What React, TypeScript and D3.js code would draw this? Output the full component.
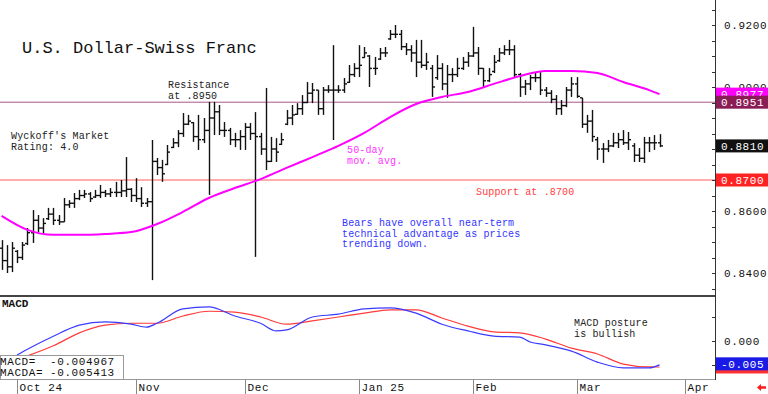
import React, { useRef, useEffect } from 'react'
import * as d3 from 'd3'

// daily OHLC bars, Sep 26 2024 .. Mar 25 2025 (trading-day index 0..127)
const highs = [
  0.8506, 0.849, 0.85, 0.8474, 0.85, 0.8545, 0.8603, 0.8587, 0.8577, 0.861,
  0.861, 0.8587, 0.8642, 0.8635, 0.8658, 0.8668, 0.8668, 0.8661, 0.8668, 0.8684,
  0.8668, 0.8674, 0.8694, 0.87, 0.8774, 0.8674, 0.8706, 0.8677, 0.8642, 0.8829,
  0.8771, 0.8765, 0.8813, 0.8835, 0.8861, 0.8916, 0.891, 0.8887, 0.891, 0.89,
  0.8952, 0.8952, 0.8942, 0.8887, 0.8868, 0.8852, 0.8861, 0.8884, 0.8884, 0.8919,
  0.8852, 0.8997, 0.8839, 0.8835, 0.8852, 0.8926, 0.8942, 0.8948, 0.8974, 0.9016,
  0.9013, 0.899, 0.9, 0.9006, 0.9135, 0.9006, 0.9029, 0.9071, 0.9077, 0.9135,
  0.9129, 0.9103, 0.9097, 0.9126, 0.9129, 0.9184, 0.92, 0.9184, 0.9142, 0.9135,
  0.9152, 0.9152, 0.911, 0.9071, 0.9103, 0.9077, 0.9071, 0.9061, 0.9094, 0.9097,
  0.9113, 0.9194, 0.9129, 0.9061, 0.9061, 0.9103, 0.9126, 0.9135, 0.9152, 0.9135,
  0.9045, 0.9023, 0.9039, 0.9048, 0.9048, 0.9, 0.899, 0.8974, 0.8958, 0.9,
  0.9032, 0.9032, 0.8965, 0.891, 0.8926, 0.8839, 0.8819, 0.8829, 0.8852, 0.8852,
  0.8861, 0.8855, 0.8819, 0.8803, 0.8839, 0.8839, 0.8845, 0.8848,
]
const lows = [
  0.841, 0.84, 0.8403, 0.8432, 0.8442, 0.849, 0.8497, 0.8532, 0.8529, 0.8571,
  0.8555, 0.8555, 0.8565, 0.861, 0.861, 0.8635, 0.8642, 0.8629, 0.8642, 0.8642,
  0.8645, 0.8645, 0.8645, 0.8645, 0.8645, 0.8629, 0.8629, 0.8613, 0.8613, 0.8377,
  0.8716, 0.8694, 0.8748, 0.8803, 0.8806, 0.8839, 0.8877, 0.8823, 0.8797, 0.8819,
  0.8652, 0.8845, 0.8845, 0.8839, 0.8813, 0.8806, 0.8797, 0.8797, 0.8829, 0.8452,
  0.8781, 0.8732, 0.8758, 0.8758, 0.8813, 0.8877, 0.8877, 0.891, 0.891, 0.8948,
  0.8948, 0.891, 0.891, 0.8981, 0.8829, 0.8981, 0.8981, 0.9013, 0.9032, 0.9032,
  0.9094, 0.9, 0.9039, 0.9087, 0.9097, 0.9152, 0.9158, 0.9119, 0.9103, 0.9081,
  0.9032, 0.9061, 0.9055, 0.8968, 0.9023, 0.899, 0.8965, 0.9016, 0.9032, 0.9055,
  0.9065, 0.9097, 0.9039, 0.9, 0.9016, 0.9045, 0.9081, 0.9103, 0.9103, 0.9029,
  0.8968, 0.8974, 0.899, 0.9016, 0.8974, 0.8968, 0.8948, 0.891, 0.891, 0.8935,
  0.8968, 0.8965, 0.8868, 0.8852, 0.8823, 0.8765, 0.8755, 0.879, 0.8806, 0.8803,
  0.8813, 0.8797, 0.8758, 0.8758, 0.8755, 0.879, 0.8797, 0.8806,
]
const opens = [
  0.848, 0.844, 0.842, 0.847, 0.845, 0.8495, 0.853, 0.857, 0.8545, 0.8575,
  0.859, 0.857, 0.8565, 0.862, 0.8625, 0.864, 0.865, 0.8655, 0.8645, 0.865,
  0.866, 0.8655, 0.866, 0.866, 0.8665, 0.867, 0.865, 0.864, 0.8625, 0.863,
  0.876, 0.874, 0.875, 0.8805, 0.882, 0.885, 0.888, 0.8885, 0.884, 0.883,
  0.886, 0.89, 0.892, 0.886, 0.886, 0.883, 0.883, 0.884, 0.887, 0.885,
  0.884, 0.88, 0.876, 0.88, 0.8815, 0.888, 0.89, 0.8912, 0.893, 0.895,
  0.898, 0.899, 0.893, 0.899, 0.899, 0.899, 0.899, 0.9015, 0.904, 0.906,
  0.9095, 0.91, 0.906, 0.909, 0.911, 0.9155, 0.917, 0.917, 0.913, 0.912,
  0.911, 0.908, 0.907, 0.906, 0.903, 0.906, 0.901, 0.904, 0.904, 0.906,
  0.908, 0.91, 0.911, 0.906, 0.902, 0.905, 0.9085, 0.911, 0.912, 0.912,
  0.904, 0.9, 0.901, 0.903, 0.903, 0.899, 0.898, 0.896, 0.893, 0.894,
  0.899, 0.901, 0.8965, 0.888, 0.889, 0.883, 0.88, 0.88, 0.881, 0.882,
  0.883, 0.882, 0.881, 0.878, 0.877, 0.882, 0.882, 0.882,
]
const closes = [
  0.844, 0.842, 0.848, 0.845, 0.849, 0.853, 0.857, 0.8545, 0.856, 0.859,
  0.857, 0.8565, 0.862, 0.8625, 0.864, 0.865, 0.8655, 0.864, 0.865, 0.866,
  0.8655, 0.866, 0.866, 0.8665, 0.867, 0.865, 0.864, 0.8625, 0.863, 0.876,
  0.874, 0.872, 0.879, 0.882, 0.885, 0.888, 0.889, 0.884, 0.883, 0.886,
  0.89, 0.892, 0.886, 0.886, 0.883, 0.883, 0.884, 0.887, 0.885, 0.884,
  0.88, 0.876, 0.88, 0.879, 0.883, 0.89, 0.891, 0.893, 0.895, 0.898,
  0.899, 0.893, 0.899, 0.899, 0.899, 0.899, 0.901, 0.904, 0.906, 0.907,
  0.911, 0.906, 0.906, 0.911, 0.911, 0.917, 0.917, 0.913, 0.912, 0.911,
  0.908, 0.907, 0.908, 0.9, 0.906, 0.901, 0.904, 0.904, 0.906, 0.908,
  0.91, 0.911, 0.906, 0.902, 0.904, 0.908, 0.911, 0.912, 0.912, 0.904,
  0.9, 0.901, 0.903, 0.903, 0.899, 0.898, 0.896, 0.893, 0.894, 0.899,
  0.901, 0.897, 0.888, 0.889, 0.884, 0.88, 0.88, 0.881, 0.882, 0.883,
  0.882, 0.883, 0.878, 0.877, 0.882, 0.882, 0.882, 0.881,
]

// 50-day moving average, read at every 5th bar
const maIdx = [0, 5, 10, 15, 20, 25, 30, 35, 40, 45, 50, 55, 60, 65, 70, 75, 80, 85, 90, 95, 100, 105, 110, 115, 120, 125, 127]
const maVals = [
  0.8584, 0.8539, 0.8523, 0.8523, 0.8526, 0.8532, 0.8558, 0.8597, 0.8642, 0.8674,
  0.8703, 0.8739, 0.8774, 0.881, 0.8852, 0.8903, 0.8945, 0.8968, 0.8984, 0.901,
  0.9035, 0.9052, 0.9052, 0.9045, 0.9016, 0.899, 0.8977,
]

// MACD (blue) and MACDA signal (red)
const macdIdx = [3, 5, 10, 15, 20, 25, 28, 30, 35, 40, 45, 50, 53, 55, 60, 65, 70, 75, 80, 85, 90, 95, 100, 102, 105, 110, 115, 120, 125, 127]
const macdVals = [
  -0.0029, -0.0017, 0.001, 0.0033, 0.004, 0.0035, 0.0029, 0.0037, 0.0067, 0.0071,
  0.0052, 0.0037, 0.0021, 0.0023, 0.005, 0.0056, 0.0067, 0.0069, 0.0058, 0.0035,
  0.0021, 0.001, 0.0008, -0.0002, -0.0008, -0.0021, -0.0044, -0.0056, -0.0056, -0.004967,
]
const sigIdx = [5, 10, 15, 20, 25, 30, 35, 40, 45, 50, 55, 60, 65, 70, 75, 80, 85, 90, 95, 100, 105, 110, 115, 120, 125, 127]
const sigVals = [
  -0.0031, -0.001, 0.0017, 0.0033, 0.0037, 0.0037, 0.0052, 0.0062, 0.006, 0.005,
  0.0035, 0.0042, 0.005, 0.0058, 0.0065, 0.0065, 0.0048, 0.0031, 0.0019, 0.0017,
  0.0004, -0.0015, -0.0027, -0.0048, -0.0054, -0.005413,
]

// 0.8800 sits under the last-close box in the original, so it is not labelled
const priceLabels = [0.84, 0.86, 0.9, 0.92]
const monthLabels = ['Oct 24', 'Nov', 'Dec', 'Jan 25', 'Feb', 'Mar', 'Apr']
const monthIdx = [3, 26, 47, 69, 91, 111, 132]

const resistance = 0.8951
const support = 0.87
const lastMa = 0.8977
const lastClose = 0.881
const lastMacd = -0.004967
const lastMacda = -0.005413

const MONO = '"Liberation Mono", "DejaVu Sans Mono", monospace'

export default function App() {
  const ref = useRef<SVGSVGElement>(null)

  useEffect(() => {
    const svg = d3.select(ref.current)
    svg.selectAll('*').remove()

    const W = 768
    const axisX = 715
    const x = d3.scaleLinear().domain([-0.3, 137.7]).range([0, axisX])
    const y = d3.scaleLinear().domain([0.84, 0.92]).range([273, 25])
    const ym = d3.scaleLinear().domain([-0.005, 0.005]).range([365, 317])

    svg.append('rect').attr('width', W).attr('height', 394).attr('fill', '#fff')

    // horizontal levels
    svg.append('line').attr('x1', 0).attr('x2', axisX)
      .attr('y1', y(resistance)).attr('y2', y(resistance))
      .attr('stroke', '#a8558a').attr('stroke-width', 1)
    svg.append('line').attr('x1', 0).attr('x2', axisX)
      .attr('y1', y(support)).attr('y2', y(support))
      .attr('stroke', '#ff5a5a').attr('stroke-width', 1)

    // OHLC bars
    const bars = svg.append('g').attr('stroke', '#111').attr('stroke-width', 1.4)
    highs.forEach((h, i) => {
      const cx = Math.round(x(i)) + 0.5
      bars.append('line').attr('x1', cx).attr('x2', cx).attr('y1', y(h)).attr('y2', y(lows[i]))
      bars.append('line').attr('x1', cx - 2.5).attr('x2', cx).attr('y1', y(opens[i])).attr('y2', y(opens[i]))
      bars.append('line').attr('x1', cx).attr('x2', cx + 2.5).attr('y1', y(closes[i])).attr('y2', y(closes[i]))
    })

    // moving average
    const maLine = d3.line<number>()
      .x((d, i) => x(maIdx[i]))
      .y((d) => y(d))
      .curve(d3.curveMonotoneX)
    svg.append('path').datum(maVals).attr('d', maLine)
      .attr('fill', 'none').attr('stroke', '#ff00ff').attr('stroke-width', 2)

    // panel separators and axis
    svg.append('line').attr('x1', 0).attr('x2', axisX).attr('y1', 296).attr('y2', 296)
      .attr('stroke', '#444').attr('stroke-width', 2)
    svg.append('line').attr('x1', 0).attr('x2', axisX).attr('y1', 379.5).attr('y2', 379.5)
      .attr('stroke', '#999').attr('stroke-width', 1)
    svg.append('line').attr('x1', axisX + 0.5).attr('x2', axisX + 0.5).attr('y1', 0).attr('y2', 380)
      .attr('stroke', '#333').attr('stroke-width', 1)

    const priceTicks = d3.range(0.835, 0.9251, 0.005)
    priceTicks.forEach((t) => {
      const ty = Math.round(y(t)) + 0.5
      svg.append('line').attr('x1', axisX - 3).attr('x2', axisX).attr('y1', ty).attr('y2', ty)
        .attr('stroke', '#333')
    })
    ;[-0.005, 0, 0.005].forEach((t) => {
      const ty = Math.round(ym(t)) + 0.5
      svg.append('line').attr('x1', axisX - 3).attr('x2', axisX).attr('y1', ty).attr('y2', ty)
        .attr('stroke', '#333')
    })

    const axisText = (g: any) =>
      g.attr('font-family', MONO).attr('font-size', 11).attr('letter-spacing', 0.6)

    priceLabels.forEach((p) => {
      svg.append('text').call(axisText).attr('x', 724).attr('y', y(p) + 4)
        .attr('fill', '#111').text(p.toFixed(4))
    })
    svg.append('text').call(axisText).attr('x', 724).attr('y', ym(0) + 4)
      .attr('fill', '#111').text('0.000')

    // value boxes on the right
    const box = (v: number, yy: number, fill: string, label: string) => {
      svg.append('rect').attr('x', axisX + 1).attr('y', yy - 6.5).attr('width', W - axisX).attr('height', 13)
        .attr('fill', fill)
      svg.append('text').call(axisText).attr('x', 721).attr('y', yy + 4)
        .attr('fill', '#fff').text(label)
    }
    box(lastMa, y(lastMa), '#ff00ff', lastMa.toFixed(4))
    box(resistance, y(resistance), '#8a1d55', resistance.toFixed(4))
    box(lastClose, y(lastClose), '#111', lastClose.toFixed(4))
    box(support, y(support), '#ff2222', support.toFixed(4))
    svg.append('rect').attr('x', axisX + 1).attr('y', ym(lastMacda) - 6.5).attr('width', W - axisX).attr('height', 13)
      .attr('fill', '#ff3030')
    box(lastMacd, ym(lastMacd) - 1, '#1a1ae6', lastMacd.toFixed(3))

    // MACD lines
    const sigLine = d3.line<number>()
      .x((d, i) => x(sigIdx[i]))
      .y((d) => ym(d))
      .curve(d3.curveMonotoneX)
    const macdLine = d3.line<number>()
      .x((d, i) => x(macdIdx[i]))
      .y((d) => ym(d))
      .curve(d3.curveMonotoneX)
    svg.append('path').datum(sigVals).attr('d', sigLine)
      .attr('fill', 'none').attr('stroke', '#ff3b3b').attr('stroke-width', 1.2)
    svg.append('path').datum(macdVals).attr('d', macdLine)
      .attr('fill', 'none').attr('stroke', '#3a3aff').attr('stroke-width', 1.2)

    svg.append('text').attr('x', 2).attr('y', 307).attr('font-family', MONO)
      .attr('font-size', 11).attr('font-weight', 'bold').attr('fill', '#111').text('MACD')

    // legend box
    svg.append('rect').attr('x', 0.5).attr('y', 355.5).attr('width', 123).attr('height', 24)
      .attr('fill', '#fff').attr('stroke', '#999')
    const leg = [['MACD=', lastMacd.toFixed(6)], ['MACDA=', lastMacda.toFixed(6)]]
    leg.forEach(([k, v], i) => {
      svg.append('text').call(axisText).attr('x', 0).attr('y', 365 + i * 11).attr('fill', '#111').text(k)
      svg.append('text').call(axisText).attr('x', 50).attr('y', 365 + i * 11).attr('fill', '#111').text(v)
    })

    // month axis
    monthIdx.forEach((mi, k) => {
      const mx = Math.round(x(mi)) + 0.5
      svg.append('line').attr('x1', mx).attr('x2', mx).attr('y1', 380).attr('y2', 394)
        .attr('stroke', '#888')
      svg.append('text').call(axisText).attr('x', mx + 2).attr('y', 391)
        .attr('fill', '#111').text(monthLabels[k])
    })
    svg.append('path').attr('d', 'M757,387.5 L761,384 L761,386.3 L766,386.3 L766,388.7 L761,388.7 L761,391 Z')
      .attr('fill', '#ff1a1a')

    // annotations
    const note = (lines: string[], tx: number, ty: number, fill: string, size = 10) => {
      const t = svg.append('text').attr('font-family', MONO).attr('font-size', size)
        .attr('letter-spacing', 0.15).attr('fill', fill)
      lines.forEach((l, i) => {
        t.append('tspan').attr('x', tx).attr('y', ty + i * 10.5).text(l)
      })
    }
    svg.append('text').attr('x', 22).attr('y', 53).attr('font-family', MONO)
      .attr('font-size', 17).attr('fill', '#111').text('U.S. Dollar-Swiss Franc')
    note(['Resistance', 'at .8950'], 168, 88, '#222')
    note(["Wyckoff's Market", 'Rating: 4.0'], 11, 139, '#222')
    note(['50-day', 'mov. avg.'], 347, 153, '#ff33ff')
    note(['Support at .8700'], 476, 195, '#ff4040')
    note(['Bears have overall near-term', 'technical advantage as prices', 'trending down.'], 342, 226, '#3333ff')
    note(['MACD posture', 'is bullish'], 574, 326, '#222')
  }, [])

  return (
    <svg
      ref={ref}
      width={768}
      height={394}
      style={{ position: 'absolute', left: 0, top: 0, display: 'block' }}
    ></svg>
  )
}
